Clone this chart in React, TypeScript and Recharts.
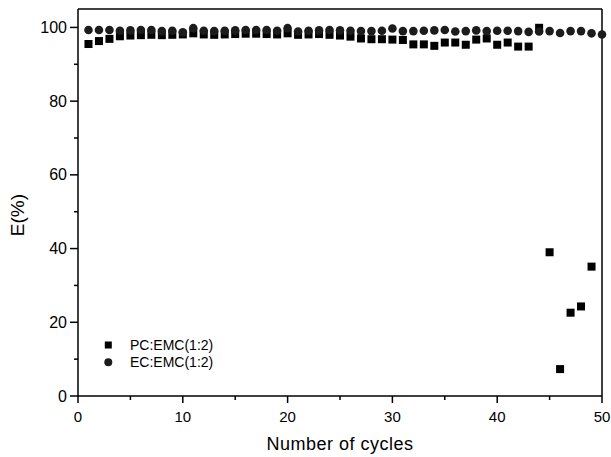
import React from 'react';
import { ScatterChart, Scatter, XAxis, YAxis, ReferenceLine, Legend } from 'recharts';

const cycles = [1, 2, 3, 4, 5, 6, 7, 8, 9, 10, 11, 12, 13, 14, 15, 16, 17, 18, 19, 20, 21, 22, 23, 24, 25, 26, 27, 28, 29, 30, 31, 32, 33, 34, 35, 36, 37, 38, 39, 40, 41, 42, 43, 44, 45, 46, 47, 48, 49, 50];

const pcValues = [95.5, 96.3, 96.9, 97.6, 97.8, 97.9, 98.0, 97.9, 98.0, 98.1, 98.4, 98.1, 98.0, 98.1, 98.2, 98.3, 98.3, 98.2, 98.1, 98.4, 98.0, 98.1, 98.2, 98.0, 97.8, 97.5, 97.0, 96.8, 96.8, 96.7, 96.6, 95.4, 95.4, 95.0, 95.9, 95.9, 95.3, 96.7, 97.0, 95.3, 95.9, 94.8, 94.8, 99.9, 39.0, 7.3, 22.6, 24.3, 35.1];

const ecValues = [99.3, 99.3, 99.3, 99.1, 99.2, 99.3, 99.3, 99.0, 99.1, 98.7, 99.8, 99.1, 99.0, 99.1, 99.2, 99.3, 99.3, 99.3, 99.1, 99.8, 98.9, 99.1, 99.2, 99.3, 99.2, 99.1, 99.0, 99.0, 99.1, 99.7, 99.0, 99.0, 99.1, 99.2, 99.3, 98.9, 99.0, 99.2, 99.0, 99.1, 99.1, 99.0, 98.8, 98.9, 99.0, 98.5, 99.0, 99.0, 98.4, 98.1];

const xTicks = [0, 5, 10, 15, 20, 25, 30, 35, 40, 45, 50];
const yTicks = [0, 10, 20, 30, 40, 50, 60, 70, 80, 90, 100];
const seriesNames = ['PC:EMC(1:2)', 'EC:EMC(1:2)'];

const pcData = pcValues.map((v, i) => ({ x: cycles[i], y: v }));
const ecData = ecValues.map((v, i) => ({ x: cycles[i], y: v }));

const FONT = '"Liberation Sans", Arial, sans-serif';

const SquareShape = (p: any) => (
  <rect x={p.cx - 4} y={p.cy - 4} width={8} height={8} fill="#000" />
);
const CircleShape = (p: any) => (
  <circle cx={p.cx} cy={p.cy} r={4.3} fill="#1c1c1c" />
);

const XTick = (props: any) => {
  const { x, y, payload } = props;
  const major = payload.value % 10 === 0;
  return (
    <g>
      <line x1={x} x2={x} y1={y} y2={y + (major ? 7 : 4)} stroke="#000" strokeWidth={1.5} />
      {major && (
        <text x={x} y={y + 26} textAnchor="middle" fontSize={15} fontFamily={FONT} fill="#000">
          {payload.value}
        </text>
      )}
    </g>
  );
};

const YTick = (props: any) => {
  const { x, y, payload } = props;
  const major = payload.value % 20 === 0;
  return (
    <g>
      <line x1={x - (major ? 8 : 4)} x2={x} y1={y} y2={y} stroke="#000" strokeWidth={1.5} />
      {major && (
        <text x={x - 11} y={y + 5.5} textAnchor="end" fontSize={16} fontFamily={FONT} fill="#000">
          {payload.value}
        </text>
      )}
    </g>
  );
};

const XLabel = () => (
  <text x={340} y={450} textAnchor="middle" fontSize={18} letterSpacing={0.5} fontFamily={FONT} fill="#000">
    Number of cycles
  </text>
);

const YLabel = () => (
  <text x={24} y={215} transform="rotate(-90, 24, 215)" textAnchor="middle" fontSize={19} fontFamily={FONT} fill="#000">
    E(%)
  </text>
);

const LegendContent = () => (
  <svg width={200} height={40} style={{ display: 'block' }}>
    <rect x={4.8} y={6.5} width={7} height={7} fill="#000" />
    <text x={30} y={15} fontSize={14} fontFamily={FONT} fill="#000">{seriesNames[0]}</text>
    <circle cx={8.3} cy={27.3} r={4} fill="#1c1c1c" />
    <text x={30} y={32} fontSize={14} fontFamily={FONT} fill="#000">{seriesNames[1]}</text>
  </svg>
);

export default function App() {
  return (
    <div style={{ position: 'absolute', left: 0, top: 0, background: '#fff' }}>
      <ScatterChart width={611} height={457} margin={{ top: 9, right: 9, bottom: 0, left: 0 }}>
        <XAxis
          type="number"
          dataKey="x"
          domain={[0, 50]}
          ticks={xTicks}
          interval={0}
          height={61}
          tickSize={0}
          tickMargin={0}
          tickLine={false}
          tick={<XTick />}
          axisLine={{ stroke: '#000', strokeWidth: 1.5 }}
          label={<XLabel />}
        />
        <YAxis
          type="number"
          dataKey="y"
          domain={[0, 105]}
          ticks={yTicks}
          interval={0}
          width={78}
          tickSize={0}
          tickMargin={0}
          tickLine={false}
          tick={<YTick />}
          axisLine={{ stroke: '#000', strokeWidth: 1.5 }}
          label={<YLabel />}
        />
        <ReferenceLine y={105} stroke="#000" strokeWidth={1.5} ifOverflow="visible" />
        <ReferenceLine x={50} stroke="#000" strokeWidth={1.5} ifOverflow="visible" />
        <Legend
          layout="vertical"
          align="center"
          verticalAlign="middle"
          content={<LegendContent />}
          wrapperStyle={{ left: 100, top: 335, width: 200, height: 40 }}
        />
        <Scatter name={seriesNames[0]} data={pcData} shape={SquareShape} isAnimationActive={false} />
        <Scatter name={seriesNames[1]} data={ecData} shape={CircleShape} isAnimationActive={false} />
      </ScatterChart>
    </div>
  );
}
